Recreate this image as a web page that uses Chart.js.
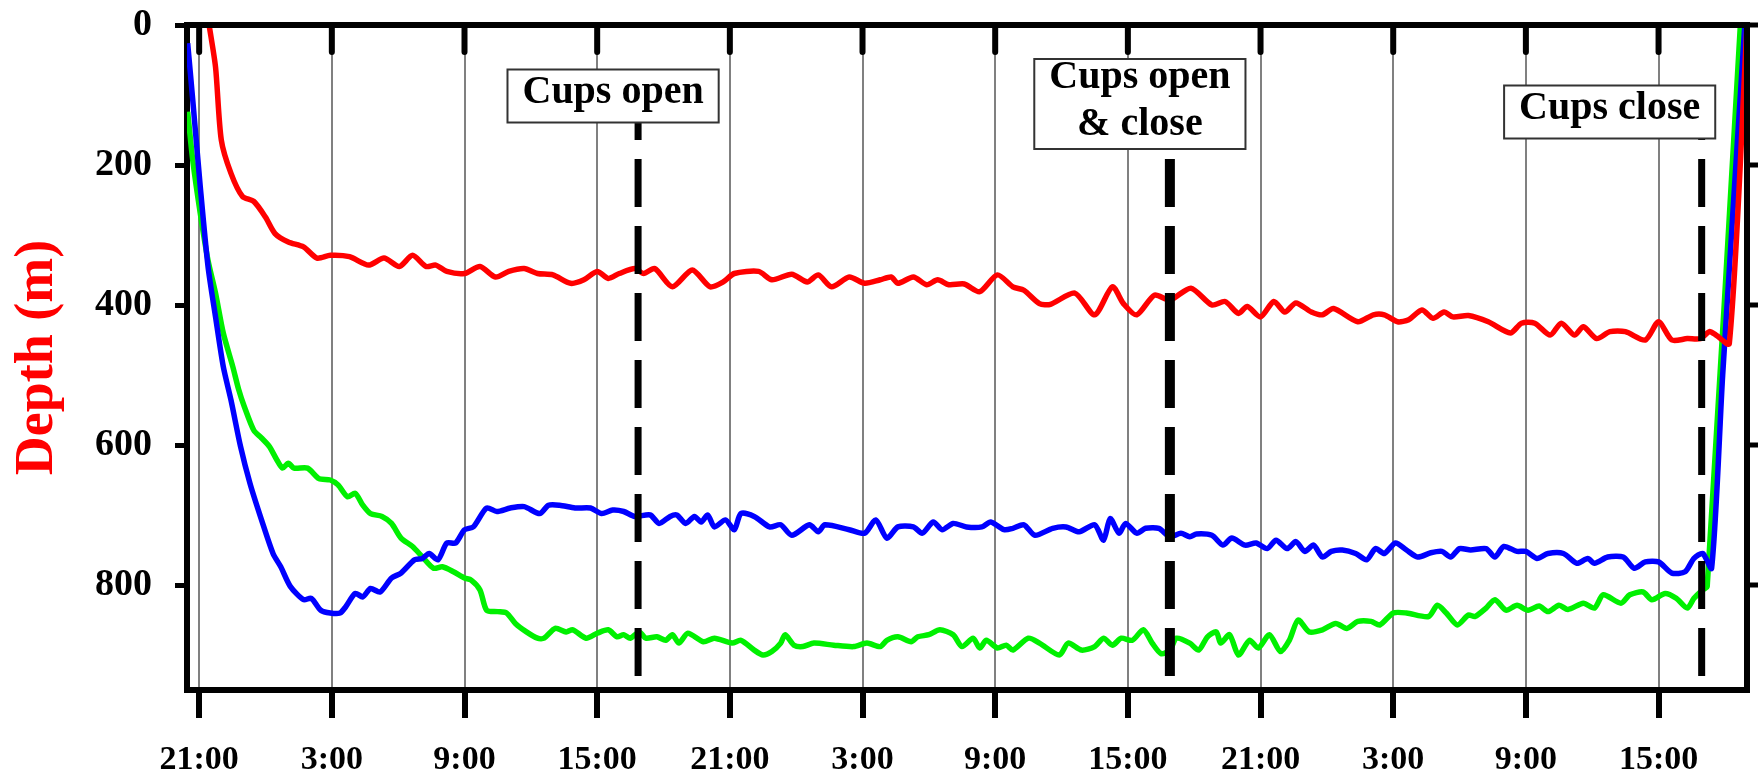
<!DOCTYPE html>
<html>
<head>
<meta charset="utf-8">
<script src="https://cdn.jsdelivr.net/npm/chart.js@4.4.1/dist/chart.umd.min.js"></script>
<style>
  html, body { margin: 0; padding: 0; background: #fff; }
</style>
</head>
<body>
<canvas id="depth" width="1758" height="772"></canvas>
<script>
const serif = "'Times New Roman', 'Liberation Serif', serif";

// [hours after 21:00 on day 1, depth in m]
const redTrack = [
  [0.45,0],[0.74,60],[1.0,164],[1.44,212],[1.96,245],[2.47,252],[2.99,274],[3.43,298],[4.03,310],[4.72,317],
  [5.33,333],[5.93,329],[6.8,331],[7.66,343],[8.36,333],[9.05,345],[9.65,329],[10.26,345],[10.7,343],[11.2,352],
  [12.0,355],[12.7,345],[13.4,360],[14.0,352],[14.7,348],[15.3,355],[16.0,357],[16.8,369],[17.4,364],[18.0,352],
  [18.5,362],[19.0,355],[19.7,348],[20.1,355],[20.6,348],[21.4,374],[22.3,350],[23.1,374],[23.7,367],[24.2,355],
  [25.3,352],[25.9,364],[26.8,356],[27.5,367],[28.0,357],[28.6,374],[29.4,360],[30.1,369],[30.8,364],[31.3,360],
  [31.6,369],[32.3,360],[32.9,371],[33.4,364],[33.9,371],[34.6,370],[35.3,381],[36.1,357],[36.8,374],[37.3,379],
  [38.0,398],[38.5,399],[39.6,383],[40.5,414],[41.3,374],[41.8,398],[42.4,414],[43.2,386],[43.9,393],[44.85,376],
  [45.8,400],[46.4,395],[47.0,412],[47.4,402],[48.0,417],[48.6,395],[49.1,410],[49.6,397],[50.3,410],[50.8,414],
  [51.3,405],[52.4,424],[53.1,414],[53.6,414],[54.2,424],[54.7,421],[55.3,407],[55.8,419],[56.3,410],[56.7,417],
  [57.4,415],[58.3,424],[59.3,440],[59.8,426],[60.4,426],[61.1,443],[61.6,426],[62.2,443],[62.6,431],[63.2,448],
  [63.8,438],[64.5,438],[65.4,450],[66.0,424],[66.6,450],[67.3,448],[67.9,448],[68.3,438],[68.6,443],[69.2,455],
  [70.0,0]
];

const blueTrack = [
  [-0.52,26],[-0.29,107],[0.05,231],[0.4,345],[0.74,417],[1.09,488],[1.44,536],[1.87,602],[2.3,655],[2.82,707],
  [3.34,755],[3.69,774],[4.12,802],[4.72,821],[5.07,819],[5.5,836],[5.93,840],[6.37,840],[6.63,831],[7.06,812],
  [7.4,817],[7.75,805],[8.18,810],[8.7,790],[9.13,783],[9.74,764],[10.1,762],[10.4,755],[10.8,764],[11.2,740],
  [11.6,740],[12.0,721],[12.4,717],[13.0,690],[13.46,695],[14.07,690],[14.7,688],[15.4,698],[15.8,686],[16.3,686],
  [17.0,690],[17.7,690],[18.2,698],[18.7,693],[19.2,695],[19.7,702],[20.4,700],[20.8,712],[21.3,702],[21.6,700],
  [22.0,712],[22.4,702],[22.7,710],[23.0,700],[23.3,717],[23.8,707],[24.2,721],[24.5,698],[25.1,702],[25.8,717],
  [26.3,714],[26.8,729],[27.6,714],[28.0,724],[28.3,714],[29.4,721],[30.1,726],[30.6,707],[31.1,733],[31.6,717],
  [32.3,717],[32.7,726],[33.2,710],[33.6,721],[34.1,712],[34.7,717],[35.4,717],[35.8,710],[36.4,721],[36.8,719],
  [37.3,714],[37.8,729],[38.6,719],[39.2,717],[39.8,724],[40.5,714],[40.9,736],[41.2,705],[41.6,726],[41.9,712],
  [42.4,726],[42.8,719],[43.4,719],[43.9,731],[44.4,726],[44.8,731],[45.1,727],[45.8,729],[46.3,743],[46.7,733],
  [47.3,743],[47.8,740],[48.3,748],[48.7,736],[49.2,748],[49.6,738],[50.0,752],[50.4,743],[50.8,760],[51.2,752],
  [51.7,750],[52.3,755],[52.8,764],[53.2,748],[53.6,755],[54.1,740],[54.6,750],[55.1,760],[55.7,754],[56.2,752],
  [56.6,760],[57.0,748],[57.5,750],[58.2,748],[58.6,760],[59.0,745],[59.6,752],[60.0,752],[60.5,762],[61.0,755],
  [61.7,755],[62.3,769],[62.8,762],[63.1,769],[63.7,760],[64.4,760],[64.9,776],[65.4,767],[66.0,767],[66.6,783],
  [67.2,781],[67.6,762],[68.0,755],[68.4,776],[68.9,500],[69.9,0]
];

const greenTrack = [
  [-0.52,124],[-0.29,193],[0.05,269],[0.4,336],[0.74,383],[1.09,440],[1.52,488],[1.78,520],[2.04,545],[2.47,579],
  [2.82,590],[3.17,602],[3.51,621],[3.77,633],[4.03,626],[4.29,633],[4.9,633],[5.42,648],[5.93,650],[6.28,657],
  [6.71,674],[7.06,669],[7.4,686],[7.75,698],[8.27,702],[8.7,712],[9.13,733],[9.65,745],[10.1,760],[10.6,776],
  [11.0,774],[11.5,781],[12.0,790],[12.3,793],[12.7,807],[13.0,836],[13.5,838],[13.9,840],[14.3,855],[14.8,867],
  [15.3,876],[15.6,876],[16.1,862],[16.6,867],[16.9,864],[17.5,876],[18.0,869],[18.5,864],[18.9,874],[19.2,871],
  [19.5,876],[19.9,867],[20.2,876],[20.7,874],[21.1,879],[21.4,871],[21.7,883],[22.1,869],[22.8,881],[23.3,876],
  [24.1,883],[24.5,879],[25.1,893],[25.5,900],[25.9,895],[26.3,883],[26.5,871],[26.9,886],[27.3,888],[27.8,883],
  [28.7,886],[29.6,888],[30.2,883],[30.8,888],[31.1,879],[31.6,874],[32.2,881],[32.5,874],[33.0,871],[33.5,864],
  [34.1,871],[34.5,888],[35.0,876],[35.3,890],[35.6,879],[36.1,890],[36.5,886],[36.8,893],[37.5,876],[38.0,883],
  [38.9,900],[39.3,883],[39.9,893],[40.5,888],[40.9,876],[41.3,886],[41.7,876],[42.2,879],[42.7,864],[43.1,883],
  [43.5,898],[43.9,893],[44.2,876],[44.8,883],[45.2,893],[45.6,874],[46.0,867],[46.2,883],[46.6,871],[47.0,900],
  [47.5,879],[47.9,890],[48.4,871],[48.9,895],[49.3,879],[49.7,850],[50.2,867],[50.8,864],[51.4,855],[51.9,862],
  [52.4,852],[53.0,852],[53.4,857],[54.0,840],[54.6,840],[55.6,845],[56.0,829],[56.4,840],[56.9,857],[57.4,843],
  [57.7,845],[58.2,833],[58.6,821],[59.1,836],[59.6,829],[60.1,836],[60.6,830],[61.0,838],[61.5,829],[61.9,835],
  [62.6,826],[63.1,833],[63.5,814],[64.3,826],[64.7,814],[65.3,810],[65.7,821],[66.3,812],[66.8,819],[67.3,833],
  [67.6,819],[68.0,807],[68.2,802],[69.7,0]
];

const hourLabels = ['21:00','3:00','9:00','15:00','21:00','3:00','9:00','15:00','21:00','3:00','9:00','15:00'];

// when the cups were worked, and what the note says
const eventHours = [19.85, 43.9, 67.95];
const eventText = [['Cups open'], ['Cups open', '& close'], ['Cups close']];

const toPoints = arr => arr.map(p => ({x: p[0], y: p[1]}));

// dashed event lines, their note boxes, and the top/right frame
const framePlugin = {
  id: 'frame',
  afterDatasetsDraw(chart, args, opts) {
    const {ctx, chartArea: a, scales: {x, y}} = chart;
    ctx.save();

    eventHours.forEach((h, i) => {
      const px = x.getPixelForValue(h);
      const lines = eventText[i];
      const place = opts.boxes[i];
      ctx.font = 'bold 40px ' + serif;
      const tw = Math.max(...lines.map(s => ctx.measureText(s).width));
      const bw = tw + 30;
      const bh = 53 + 37 * (lines.length - 1);
      const cx = px + place.dx;
      const cy = place.cy;
      const bx = cx - bw / 2, by = cy - bh / 2;

      // dashed line from under the box to the bottom axis
      const period = 67;
      ctx.setLineDash([48, 19]);
      ctx.lineDashOffset = (by + bh - a.top) % period;
      ctx.strokeStyle = '#000';
      ctx.lineWidth = opts.dashWidth[i];
      ctx.lineCap = 'butt';
      ctx.beginPath();
      ctx.moveTo(px, by + bh);
      ctx.lineTo(px, a.bottom);
      ctx.stroke();
      ctx.setLineDash([]);

      ctx.fillStyle = '#fff';
      ctx.fillRect(bx, by, bw, bh);
      ctx.strokeStyle = '#333';
      ctx.lineWidth = 2;
      ctx.strokeRect(bx, by, bw, bh);

      ctx.fillStyle = '#000';
      ctx.textAlign = 'center';
      ctx.textBaseline = 'middle';
      lines.forEach((s, k) => {
        ctx.fillText(s, cx, cy - 3 + (k - (lines.length - 1) / 2) * 47);
      });
    });

    ctx.strokeStyle = '#000';
    ctx.lineWidth = 6;
    ctx.lineCap = 'butt';
    ctx.beginPath();
    ctx.moveTo(a.left - 3, a.top);
    ctx.lineTo(a.right + 3, a.top);
    ctx.moveTo(a.right, a.top);
    ctx.lineTo(a.right, a.bottom + 3);
    ctx.stroke();

    ctx.lineCap = 'round';
    ctx.beginPath();
    x.ticks.forEach(t => {
      const px = x.getPixelForValue(t.value);
      ctx.moveTo(px, a.top);
      ctx.lineTo(px, a.top + 27);
    });
    ctx.stroke();

    ctx.lineWidth = 5;
    ctx.lineCap = 'butt';
    ctx.beginPath();
    y.ticks.forEach(t => {
      const py = y.getPixelForValue(t.value);
      ctx.moveTo(a.right, py);
      ctx.lineTo(a.right + 14, py);
    });
    ctx.stroke();
    ctx.restore();
  }
};

const line = (data, color) => ({
  data: toPoints(data),
  borderColor: color,
  borderWidth: 5.5,
  pointRadius: 0,
  tension: 0.25,
  fill: false
});

new Chart(document.getElementById('depth'), {
  type: 'line',
  data: {
    datasets: [
      line(redTrack, '#ff0000'),
      line(blueTrack, '#0000ff'),
      line(greenTrack, '#00f000')
    ]
  },
  options: {
    responsive: false,
    devicePixelRatio: 1,
    animation: false,
    layout: { padding: { left: 0, right: 11, top: 25, bottom: 0 } },
    plugins: {
      legend: { display: false },
      tooltip: { enabled: false },
      frame: {
        boxes: [ {dx: -25, cy: 96}, {dx: -30, cy: 104}, {dx: -92, cy: 112} ],
        dashWidth: [7, 10, 7]
      }
    },
    scales: {
      x: {
        type: 'linear',
        min: -0.55,
        max: 70,
        afterFit: s => { s.height = 82; },
        border: { color: '#000', width: 6 },
        grid: { color: '#808080', lineWidth: 2, tickColor: '#000', tickWidth: 6, tickLength: 28 },
        ticks: {
          stepSize: 6,
          includeBounds: false,
          autoSkip: false,
          maxRotation: 0,
          padding: 22,
          color: '#000',
          font: { family: serif, weight: 'bold', size: 34 },
          callback: v => hourLabels[Math.round(v / 6)]
        }
      },
      y: {
        reverse: true,
        min: 0,
        max: 950,
        afterFit: s => { s.width = 187; s.paddingTop = 0; s.paddingBottom = 0; },
        border: { color: '#000', width: 6 },
        grid: { drawOnChartArea: false, tickColor: '#000', tickWidth: 5, tickLength: 12 },
        ticks: {
          stepSize: 200,
          includeBounds: false,
          padding: 23,
          color: '#000',
          font: { family: serif, weight: 'bold', size: 38 }
        },
        title: {
          display: true,
          text: 'Depth (m)',
          color: '#ff0000',
          font: { family: serif, weight: 'bold', size: 54 },
          padding: { top: 6, bottom: 0 }
        }
      }
    }
  },
  plugins: [framePlugin]
});
</script>
</body>
</html>
